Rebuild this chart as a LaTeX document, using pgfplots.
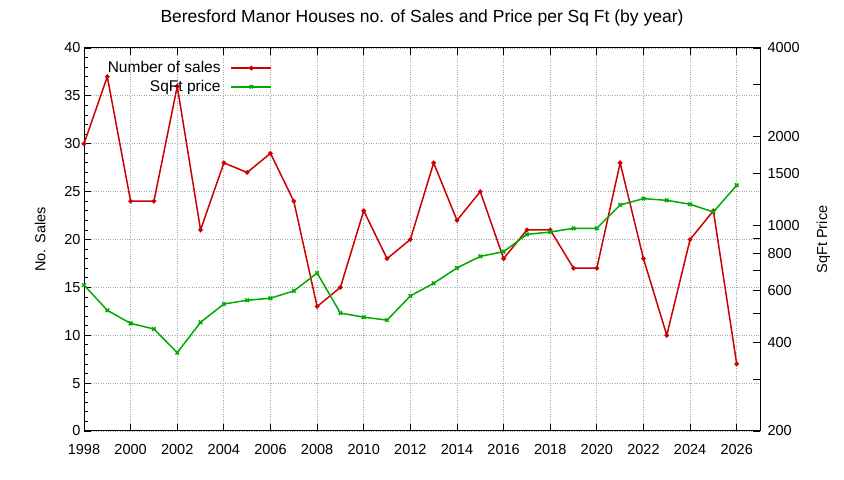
\documentclass[border=0pt]{standalone}
\usepackage{fontspec}
\setmainfont{Liberation Sans}
\usepackage{pgfplots}
\pgfplotsset{compat=1.18}

\definecolor{salesred}{RGB}{204,0,0}
\definecolor{pricegreen}{RGB}{0,170,0}

\begin{document}
\begin{tikzpicture}[x=1bp,y=1bp,font=\fontsize{14.5bp}{17bp}\selectfont]
\path[use as bounding box] (0,0) rectangle (844,480);

\pgfplotsset{
  every axis/.append style={
    scale only axis,width=676bp,height=383bp,
    at={(84bp,49bp)},anchor=south west,
    xmin=1998,xmax=2027,
    /pgf/number format/assume math mode=true,
    /pgf/number format/1000 sep={},
    tick align=inside,
    major tick length=7bp,minor tick length=4bp,
    tick style={black,line width=0.8bp},
    axis line style={line width=1bp},
  },
}

\begin{axis}[
  ymin=0,ymax=40,
  ytick={0,5,...,40},minor y tick num=4,
  xtick={1998,2000,...,2026},minor x tick num=1,
  xtick pos=both,ytick pos=left,
  xmajorgrids,xminorgrids,ymajorgrids,
  grid style={gray!70,dotted,line width=0.8bp},
  minor grid style={gray!70,dotted,line width=0.8bp},
  ylabel={No. Sales},
  ylabel style={at={(axis description cs:0,0.5)},anchor=south,yshift=35bp},
  title={Beresford Manor Houses no. of Sales and Price per Sq Ft (by year)},
  title style={at={(0.5,1)},anchor=south,yshift=12bp,font=\fontsize{17.5bp}{20bp}\selectfont},
  xticklabel style={yshift=-10bp},
]
\addplot[salesred,line width=1.5bp,mark=*,mark size=1.5bp] coordinates {
(1998,30) (1999,37) (2000,24) (2001,24) (2002,36) (2003,21) (2004,28)
(2005,27) (2006,29) (2007,24) (2008,13) (2009,15) (2010,23) (2011,18)
(2012,20) (2013,28) (2014,22) (2015,25) (2016,18) (2017,21) (2018,21)
(2019,17) (2020,17) (2021,28) (2022,18) (2023,10) (2024,20) (2025,23)
(2026,7)};
\end{axis}

\begin{axis}[
  ymode=log,ymin=200,ymax=4000,
  axis y line*=right,axis x line=none,
  ytick={200,300,400,500,600,700,800,900,1000,1500,2000,3000,4000},
  yticklabels={200,,400,,600,,800,,1000,1500,2000,,4000},
  minor ytick={},
  yticklabel style={anchor=west,xshift=4bp},
  ylabel={SqFt Price},
  ylabel style={at={(axis description cs:1,0.5)},anchor=north,yshift=-53bp},
  legend style={at={(0.283,0.975)},anchor=north east,draw=none,fill=none,
    font=\fontsize{15.5bp}{18bp}\selectfont,row sep=2bp,
    /tikz/every odd column/.append style={column sep=8bp}},
  legend cell align=right,
  legend plot pos=right,
  legend image code/.code={\draw[mark repeat=2,mark phase=2,#1]
    plot coordinates {(0bp,0bp) (20bp,0bp) (40bp,0bp)};},
]
\addlegendimage{salesred,line width=1.5bp,mark=*,mark size=1.5bp}
\addlegendentry{Number of sales}
\addplot[pricegreen,line width=1.5bp,mark=x,mark size=2.5bp,mark options={line width=1.5bp}] coordinates {
(1998,626) (1999,514) (2000,464) (2001,444) (2002,369) (2003,468) (2004,540)
(2005,556) (2006,565) (2007,598) (2008,688) (2009,503) (2010,487) (2011,476)
(2012,575) (2013,635) (2014,716) (2015,784) (2016,813) (2017,931) (2018,948)
(2019,976) (2020,976) (2021,1172) (2022,1231) (2023,1215) (2024,1178) (2025,1109)
(2026,1367)};
\addlegendentry{SqFt price}
\end{axis}
\end{tikzpicture}
\end{document}
